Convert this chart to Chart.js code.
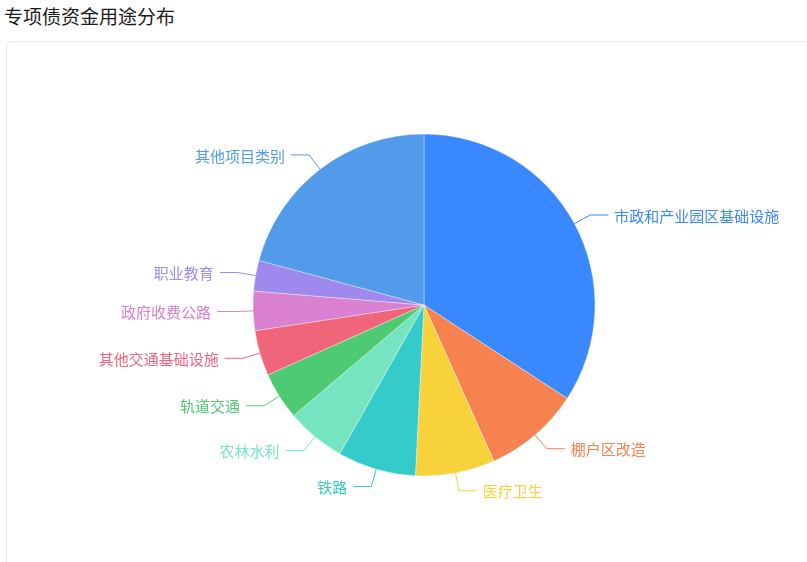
<!DOCTYPE html>
<html>
<head>
<meta charset="utf-8">
<script src="https://cdn.jsdelivr.net/npm/chart.js@4"></script>
<style>
    html, body { margin: 0; padding: 0; background: #fff; overflow: hidden; }
    body { width: 807px; height: 562px; position: relative; font-family: "Noto Sans CJK SC", "Noto Sans", sans-serif; }
    .title { position: absolute; left: 4px; top: 0; line-height: 32px; font-size: 19px; color: #1a1a1a; }
    .card { position: absolute; left: 6px; top: 41px; width: 820px; height: 560px; border: 1px solid #ebebeb; border-radius: 5px; box-sizing: border-box; }
    #chart { position: absolute; left: 0; top: 0; }
</style>
</head>
<body>
<div class="title">专项债资金用途分布</div>
<div class="card"></div>
<canvas id="chart" width="807" height="562"></canvas>
<script>
// shares, in %
const categories = ['市政和产业园区基础设施', '棚户区改造', '医疗卫生', '铁路', '农林水利',
    '轨道交通', '其他交通基础设施', '政府收费公路', '职业教育', '其他项目类别'];
const shares = [34.2, 9.1, 7.5, 7.4, 5.6, 4.5, 4.3, 3.7, 2.9, 20.8];
const colors = ['#3a88fe', '#f5824f', '#f8d23a', '#35cbca', '#74e5c0',
    '#4ec974', '#f0657a', '#d981d0', '#9e8aee', '#529beb'];

// echarts-like outside labels with a bent leader line
const leaderLabels = {
    id: 'leaderLabels',
    afterDatasetsDraw(chart) {
        const ctx = chart.ctx;
        const meta = chart.getDatasetMeta(0);
        ctx.save();
        ctx.font = '15px "Noto Sans CJK SC", sans-serif';
        ctx.textBaseline = 'middle';
        ctx.lineWidth = 1;
        meta.data.forEach((arc, i) => {
            const {x, y, outerRadius, startAngle, endAngle} = arc.getProps(['x', 'y', 'outerRadius', 'startAngle', 'endAngle'], true);
            const mid = (startAngle + endAngle) / 2;
            const cos = Math.cos(mid), sin = Math.sin(mid);
            const x0 = x + outerRadius * cos, y0 = y + outerRadius * sin;
            const x1 = x + (outerRadius + 18) * cos, y1 = y + (outerRadius + 18) * sin;
            const dir = cos >= 0 ? 1 : -1;
            const x2 = x1 + dir * 18;
            ctx.strokeStyle = colors[i];
            ctx.beginPath();
            ctx.moveTo(x0, y0);
            ctx.lineTo(x1, y1);
            ctx.lineTo(x2, y1);
            ctx.stroke();
            ctx.fillStyle = colors[i];
            ctx.textAlign = dir > 0 ? 'left' : 'right';
            ctx.fillText(categories[i], x2 + dir * 6, y1 + 1);
        });
        ctx.restore();
    }
};

const config = {
    type: 'pie',
    data: {
        labels: categories,
        datasets: [{
            data: shares,
            backgroundColor: colors,
            borderColor: 'rgba(255,255,255,0.35)',
            borderWidth: 1,
            hoverOffset: 0
        }]
    },
    options: {
        responsive: false,
        animation: false,
        radius: 171,
        layout: {
            padding: {left: 253, top: 134, right: 212, bottom: 86}
        },
        plugins: {
            legend: {display: false},
            tooltip: {enabled: false},
            title: {display: false}
        }
    },
    plugins: [leaderLabels]
};

const chart = new Chart(document.getElementById('chart'), config);
</script>
</body>
</html>
